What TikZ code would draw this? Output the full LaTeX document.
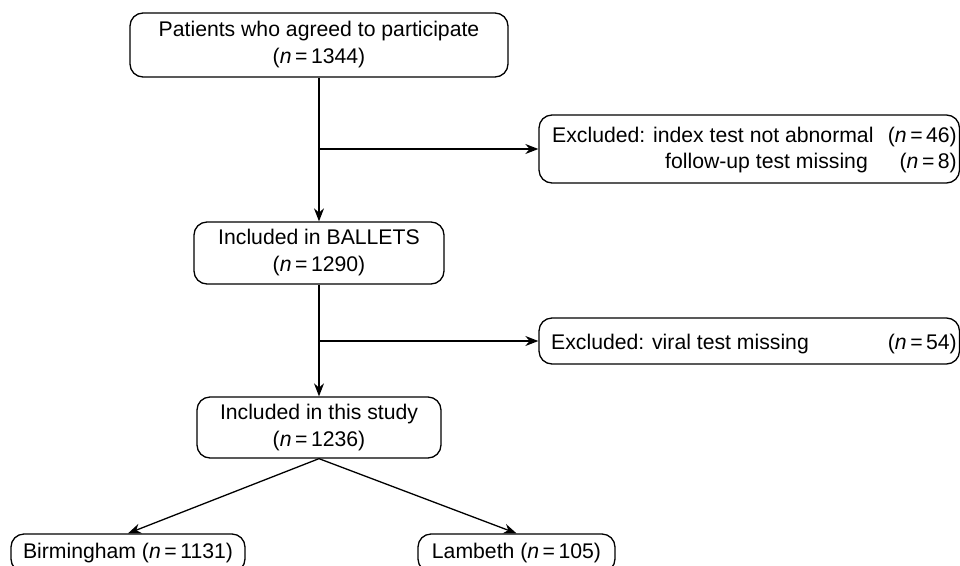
\documentclass[tikz,border=0pt]{standalone}
\usepackage{fontspec}
\setmainfont{Liberation Sans}
\usetikzlibrary{arrows.meta}
\begin{document}
\begin{tikzpicture}[x=1pt,y=-1pt,
  box/.style={draw, line width=1.3pt, rounded corners=13pt, inner sep=0pt, align=center, font=\fontsize{21.2}{27}\selectfont},
  txt/.style={inner sep=0pt, font=\fontsize{21.2}{27}\selectfont},
  conn/.style={line width=1.3pt},
  arr/.style={conn, -{Stealth[length=13pt,width=10pt]}}]
\useasboundingbox (0,0) rectangle (960,565);
\clip (0,0) rectangle (960,565);
\node[box, minimum width=378pt, minimum height=64pt] (top) at (319,45) {Patients who agreed to participate\\(\textit{n}\,=\,1344)};
\node[box, minimum width=250pt, minimum height=62pt] (ballets) at (319,253) {Included in BALLETS\\(\textit{n}\,=\,1290)};
\node[box, minimum width=244pt, minimum height=61pt] (study) at (319,427.5) {Included in this study\\(\textit{n}\,=\,1236)};
\node[box, minimum width=420.5pt, minimum height=68pt] (exc1) at (749.25,149) {};
\node[box, minimum width=420.5pt, minimum height=46pt] (exc2) at (749.25,341) {};
\node[box, minimum width=234pt, minimum height=38pt] (birm) at (128,553) {Birmingham (\textit{n}\,=\,1131)};
\node[box, minimum width=197pt, minimum height=38pt] (lamb) at (516.5,553) {Lambeth (\textit{n}\,=\,105)};
\node[txt, anchor=base west] (e1a) at (552,142) {Excluded: index test not abnormal};
\node[txt, anchor=base east] (e1b) at (957,142) {(\textit{n}\,=\,46)};
\node[txt, anchor=base west] (e1c) at (665,168) {follow-up test missing};
\node[txt, anchor=base east] (e1d) at (957,168) {(\textit{n}\,=\,8)};
\node[txt, anchor=base west] (e2a) at (551,349) {Excluded: viral test missing};
\node[txt, anchor=base east] (e2b) at (957,349) {(\textit{n}\,=\,54)};
\coordinate (b1) at (319,149);
\coordinate (b2) at (319,341);
\draw[arr] (top.south) -- (ballets.north);
\draw[arr] (b1) -- (exc1.west);
\draw[arr] (ballets.south) -- (study.north);
\draw[arr] (b2) -- (exc2.west);
\draw[arr] (study.south) -- (birm.north);
\draw[arr] (study.south) -- (lamb.north);
\end{tikzpicture}
\end{document}
